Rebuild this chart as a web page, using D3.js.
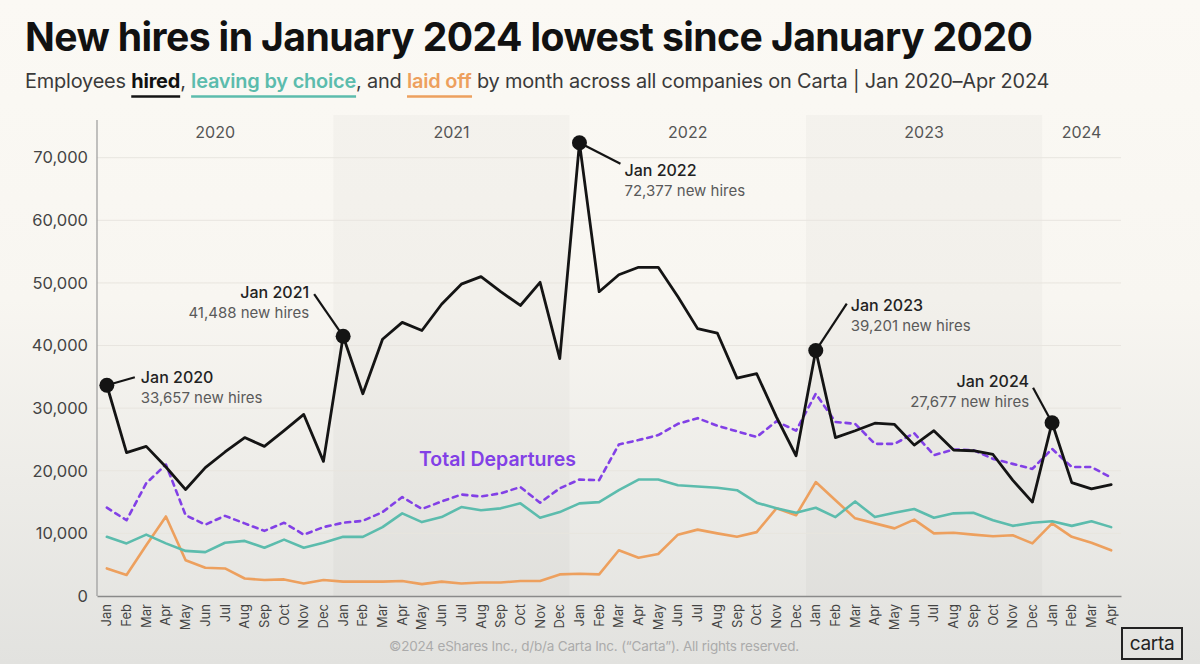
<!DOCTYPE html>
<html>
<head>
<meta charset="utf-8">
<script src="https://cdn.jsdelivr.net/npm/d3@7"></script>
<style>
  html, body { margin: 0; padding: 0; }
  body { width: 1200px; height: 664px; overflow: hidden; }
  svg { display: block; font-family: Inter, "Noto Sans", sans-serif; }
</style>
</head>
<body>
<script>
// month labels + years
var MONTHS = ['Jan','Feb','Mar','Apr','May','Jun','Jul','Aug','Sep','Oct','Nov','Dec']
var YEARS = ['2020','2021','2022','2023','2024']
var MONTH_COUNT = 52   // Jan 2020 - Apr 2024
var Y_TICKS = [0, 10000, 20000, 30000, 40000, 50000, 60000, 70000]

// values (months in order)
var hired = [
  33657, 22900, 23900, 20600, 17000, 20500, 23000, 25300, 23900, 26400, 29000, 21500,
  41488, 32300, 41000, 43700, 42400, 46600, 49800, 51000, 48600, 46400, 50100, 37900,
  72377, 48600, 51300, 52500, 52500, 47800, 42700, 42000, 34800, 35500, 28600, 22400,
  39201, 25300, 26400, 27600, 27400, 24100, 26400, 23300, 23200, 22600, 18500, 15000,
  27677, 18100, 17100, 17800
]
var total_departures = [
  14100, 12100, 18000, 21000, 12900, 11400, 12800, 11600, 10400, 11700, 9800, 11000,
  11700, 12000, 13400, 15800, 13900, 15100, 16200, 15900, 16400, 17400, 14900, 17200,
  18600, 18500, 24200, 24900, 25700, 27500, 28400, 27200, 26300, 25400, 27900, 26400,
  32300, 27800, 27500, 24300, 24300, 26000, 22500, 23400, 23300, 21900, 21100, 20300,
  23500, 20600, 20600, 18900
]
var leaving_by_choice = [
  9450, 8400, 9800, 8400, 7200, 7000, 8500, 8800, 7700, 9000, 7700, 8500,
  9450, 9450, 11000, 13200, 11800, 12600, 14200, 13700, 14000, 14800, 12500, 13400,
  14800, 15000, 16900, 18600, 18600, 17700, 17500, 17300, 16900, 14900, 14000, 13300,
  14100, 12600, 15100, 12600, 13300, 13900, 12500, 13200, 13300, 12100, 11200, 11700,
  11950, 11200, 11950, 11000
]
var laid_off = [
  4400, 3350, 8100, 12700, 5700, 4500, 4400, 2800, 2550, 2650, 2000, 2550,
  2300, 2300, 2300, 2400, 1900, 2300, 2000, 2150, 2150, 2400, 2400, 3450,
  3550, 3450, 7300, 6100, 6700, 9800, 10600, 10000, 9450, 10200, 14000, 12900,
  18200, 15300, 12400, 11600, 10800, 12200, 10000, 10100, 9800, 9550, 9700, 8400,
  11600, 9450, 8500, 7300
]

// called-out points: month index + the two lines of text
var callouts = [
  { i: 0,  title: 'Jan 2020', sub: '33,657 new hires' },
  { i: 12, title: 'Jan 2021', sub: '41,488 new hires' },
  { i: 24, title: 'Jan 2022', sub: '72,377 new hires' },
  { i: 36, title: 'Jan 2023', sub: '39,201 new hires' },
  { i: 48, title: 'Jan 2024', sub: '27,677 new hires' }
]

var INK = '#141414'
var PURPLE = '#8240e6'
var TEAL = '#5cbcad'
var ORANGE = '#eda05e'

var W = 1200, H = 664
var svg = d3.select('body').append('svg').attr('width', W).attr('height', H)

// background: cream fading to the grey of the capture
var defs = svg.append('defs')
var grad = defs.append('linearGradient').attr('id', 'bg').attr('x1', 0).attr('y1', 0).attr('x2', 0).attr('y2', 1)
grad.append('stop').attr('offset', '0%').attr('stop-color', '#fbf9f4')
grad.append('stop').attr('offset', '45%').attr('stop-color', '#f8f6f1')
grad.append('stop').attr('offset', '100%').attr('stop-color', '#e2e2df')
svg.append('rect').attr('width', W).attr('height', H).attr('fill', 'url(#bg)')

// categories "Jan 2020" ... "Apr 2024"
var categories = []
YEARS.forEach(function(yr){
  MONTHS.forEach(function(m){
    if(categories.length < MONTH_COUNT) categories.push({ m: m, y: yr })
  })
})
var idx = d3.range(categories.length)

var plot = { left: 97, right: 1121, top: 115, bottom: 596 }
var x = d3.scaleBand().domain(idx).range([plot.left, plot.right])
var cx = function(i){ return x(i) + x.bandwidth() / 2 }
var y = d3.scaleLinear().domain([0, 70000]).range([plot.bottom, 157.7])

// year bands (every other year shaded) + year labels
YEARS.forEach(function(yr, k){
  var members = idx.filter(function(i){ return categories[i].y === yr })
  var x0 = x(members[0]), x1 = x(members[members.length - 1]) + x.bandwidth()
  if(k % 2 === 1){
    svg.append('rect').attr('x', x0).attr('y', plot.top)
      .attr('width', x1 - x0).attr('height', plot.bottom - plot.top)
      .attr('fill', '#000').attr('opacity', 0.022)
  }
  svg.append('text').attr('x', (x0 + x1) / 2).attr('y', 138)
    .attr('text-anchor', 'middle').attr('font-size', 16).attr('fill', '#555')
    .text(yr)
})

// grid + y axis
svg.append('g').selectAll('line').data(Y_TICKS.slice(1)).enter().append('line')
  .attr('x1', plot.left).attr('x2', plot.right)
  .attr('y1', function(d){ return y(d) }).attr('y2', function(d){ return y(d) })
  .attr('stroke', '#e8e5df').attr('stroke-width', 1)

var yAxis = svg.append('g').attr('transform', 'translate(' + plot.left + ',0)')
  .call(d3.axisLeft(y).tickValues(Y_TICKS).tickFormat(d3.format(',')).tickSize(0).tickPadding(9))
yAxis.select('.domain').remove()
yAxis.selectAll('text').attr('font-size', 16.5).attr('fill', '#444').attr('font-family', 'Inter, sans-serif')
svg.append('line').attr('x1', plot.left).attr('x2', plot.left).attr('y1', 120).attr('y2', plot.bottom)
  .attr('stroke', '#9a9a9a').attr('stroke-width', 1.2)

// x axis with rotated month names
var xAxis = svg.append('g').attr('transform', 'translate(0,' + plot.bottom + ')')
  .call(d3.axisBottom(x).tickFormat(function(i){ return categories[i].m }).tickSize(0).tickPadding(0))
xAxis.select('.domain').attr('stroke', '#8a8a8a').attr('stroke-width', 1.5)
xAxis.selectAll('text')
  .attr('font-size', 13).attr('fill', '#444').attr('font-family', 'Inter, sans-serif')
  .attr('text-anchor', 'end').attr('transform', 'rotate(-90)')
  .attr('x', -8).attr('y', 0).attr('dy', '0.35em')

// series lines
var line = d3.line().x(function(d, i){ return cx(i) }).y(function(d){ return y(d) })
function draw_series(values, color, dash){
  var p = svg.append('path').datum(values).attr('d', line)
    .attr('fill', 'none').attr('stroke', color).attr('stroke-width', 2.6)
    .attr('stroke-linejoin', 'round').attr('stroke-linecap', 'round')
  if(dash) p.attr('stroke-dasharray', dash)
  return p
}
draw_series(laid_off, ORANGE)
draw_series(leaving_by_choice, TEAL)
draw_series(total_departures, PURPLE, '5,5')
draw_series(hired, INK).attr('stroke-width', 2.8)

svg.append('text').attr('x', 419).attr('y', 466)
  .attr('font-size', 19.5).attr('font-weight', 600).attr('fill', PURPLE)
  .text('Total Departures')

// callouts: leader offset and text side per point
var callout_layout = [
  { lx: 28,  ly: -8,  tx: 34,  ty: -2,  anchor: 'start' },
  { lx: -29, ly: -42, tx: -34, ty: -38, anchor: 'end' },
  { lx: 41,  ly: 21,  tx: 45,  ty: 33,  anchor: 'start' },
  { lx: 31,  ly: -47, tx: 35,  ty: -40, anchor: 'start' },
  { lx: -19, ly: -35, tx: -23, ty: -36, anchor: 'end' }
]
callouts.forEach(function(c, k){
  var lay = callout_layout[k]
  var px = cx(c.i), py = y(hired[c.i])
  svg.append('line').attr('x1', px).attr('y1', py).attr('x2', px + lay.lx).attr('y2', py + lay.ly)
    .attr('stroke', INK).attr('stroke-width', 2.2)
  svg.append('circle').attr('cx', px).attr('cy', py).attr('r', 7.5).attr('fill', INK)
  svg.append('text').attr('x', px + lay.tx).attr('y', py + lay.ty)
    .attr('text-anchor', lay.anchor).attr('font-size', 16).attr('font-weight', 500).attr('fill', '#222')
    .text(c.title)
  svg.append('text').attr('x', px + lay.tx).attr('y', py + lay.ty + 20)
    .attr('text-anchor', lay.anchor).attr('font-size', 15).attr('fill', '#5a5a5a')
    .text(c.sub)
})

// title, fitted to the width it has in the original
function fit(sel, width){
  var w = sel.node().getComputedTextLength()
  var fs = parseFloat(sel.attr('font-size'))
  sel.attr('font-size', fs * width / w)
}
var title = svg.append('text').attr('x', 25).attr('y', 51)
  .attr('font-size', 36).attr('font-weight', 700).attr('fill', '#111').attr('letter-spacing', -0.6)
  .text('New hires in January 2024 lowest since January 2020')
fit(title, 1005)

// subtitle with coloured, underlined keywords
var parts = [
  { t: 'Employees ', c: '#3a3a3a' },
  { t: 'hired', c: '#111', w: 700, u: INK },
  { t: ', ', c: '#3a3a3a' },
  { t: 'leaving by choice', c: TEAL, w: 600, u: TEAL },
  { t: ', and ', c: '#3a3a3a' },
  { t: 'laid off', c: ORANGE, w: 600, u: ORANGE },
  { t: ' by month across all companies on Carta | Jan 2020\u2013Apr 2024', c: '#3a3a3a' }
]
var sub = svg.append('text').attr('x', 25).attr('y', 88).attr('font-size', 18).attr('letter-spacing', -0.2)
sub.selectAll('tspan').data(parts).enter().append('tspan')
  .attr('fill', function(d){ return d.c })
  .attr('font-weight', function(d){ return d.w || 400 })
  .text(function(d){ return d.t })
fit(sub, 1023)
sub.selectAll('tspan').each(function(d){
  if(!d.u) return
  var b = this.getBBox()
  svg.append('line').attr('x1', b.x).attr('x2', b.x + b.width).attr('y1', 96.5).attr('y2', 96.5)
    .attr('stroke', d.u).attr('stroke-width', 2.5)
})

// footer
svg.append('text').attr('x', 594).attr('y', 651).attr('text-anchor', 'middle')
  .attr('font-size', 13.5).attr('fill', '#ababab').attr('letter-spacing', -0.2)
  .text('\u00a92024 eShares Inc., d/b/a Carta Inc. (\u201cCarta\u201d). All rights reserved.')
svg.append('rect').attr('x', 1122).attr('y', 628).attr('width', 60).attr('height', 31)
  .attr('fill', 'none').attr('stroke', '#222').attr('stroke-width', 2)
svg.append('text').attr('x', 1152).attr('y', 650).attr('text-anchor', 'middle')
  .attr('font-size', 19).attr('fill', '#222').attr('letter-spacing', -0.3)
  .text('carta')
</script>
</body>
</html>
